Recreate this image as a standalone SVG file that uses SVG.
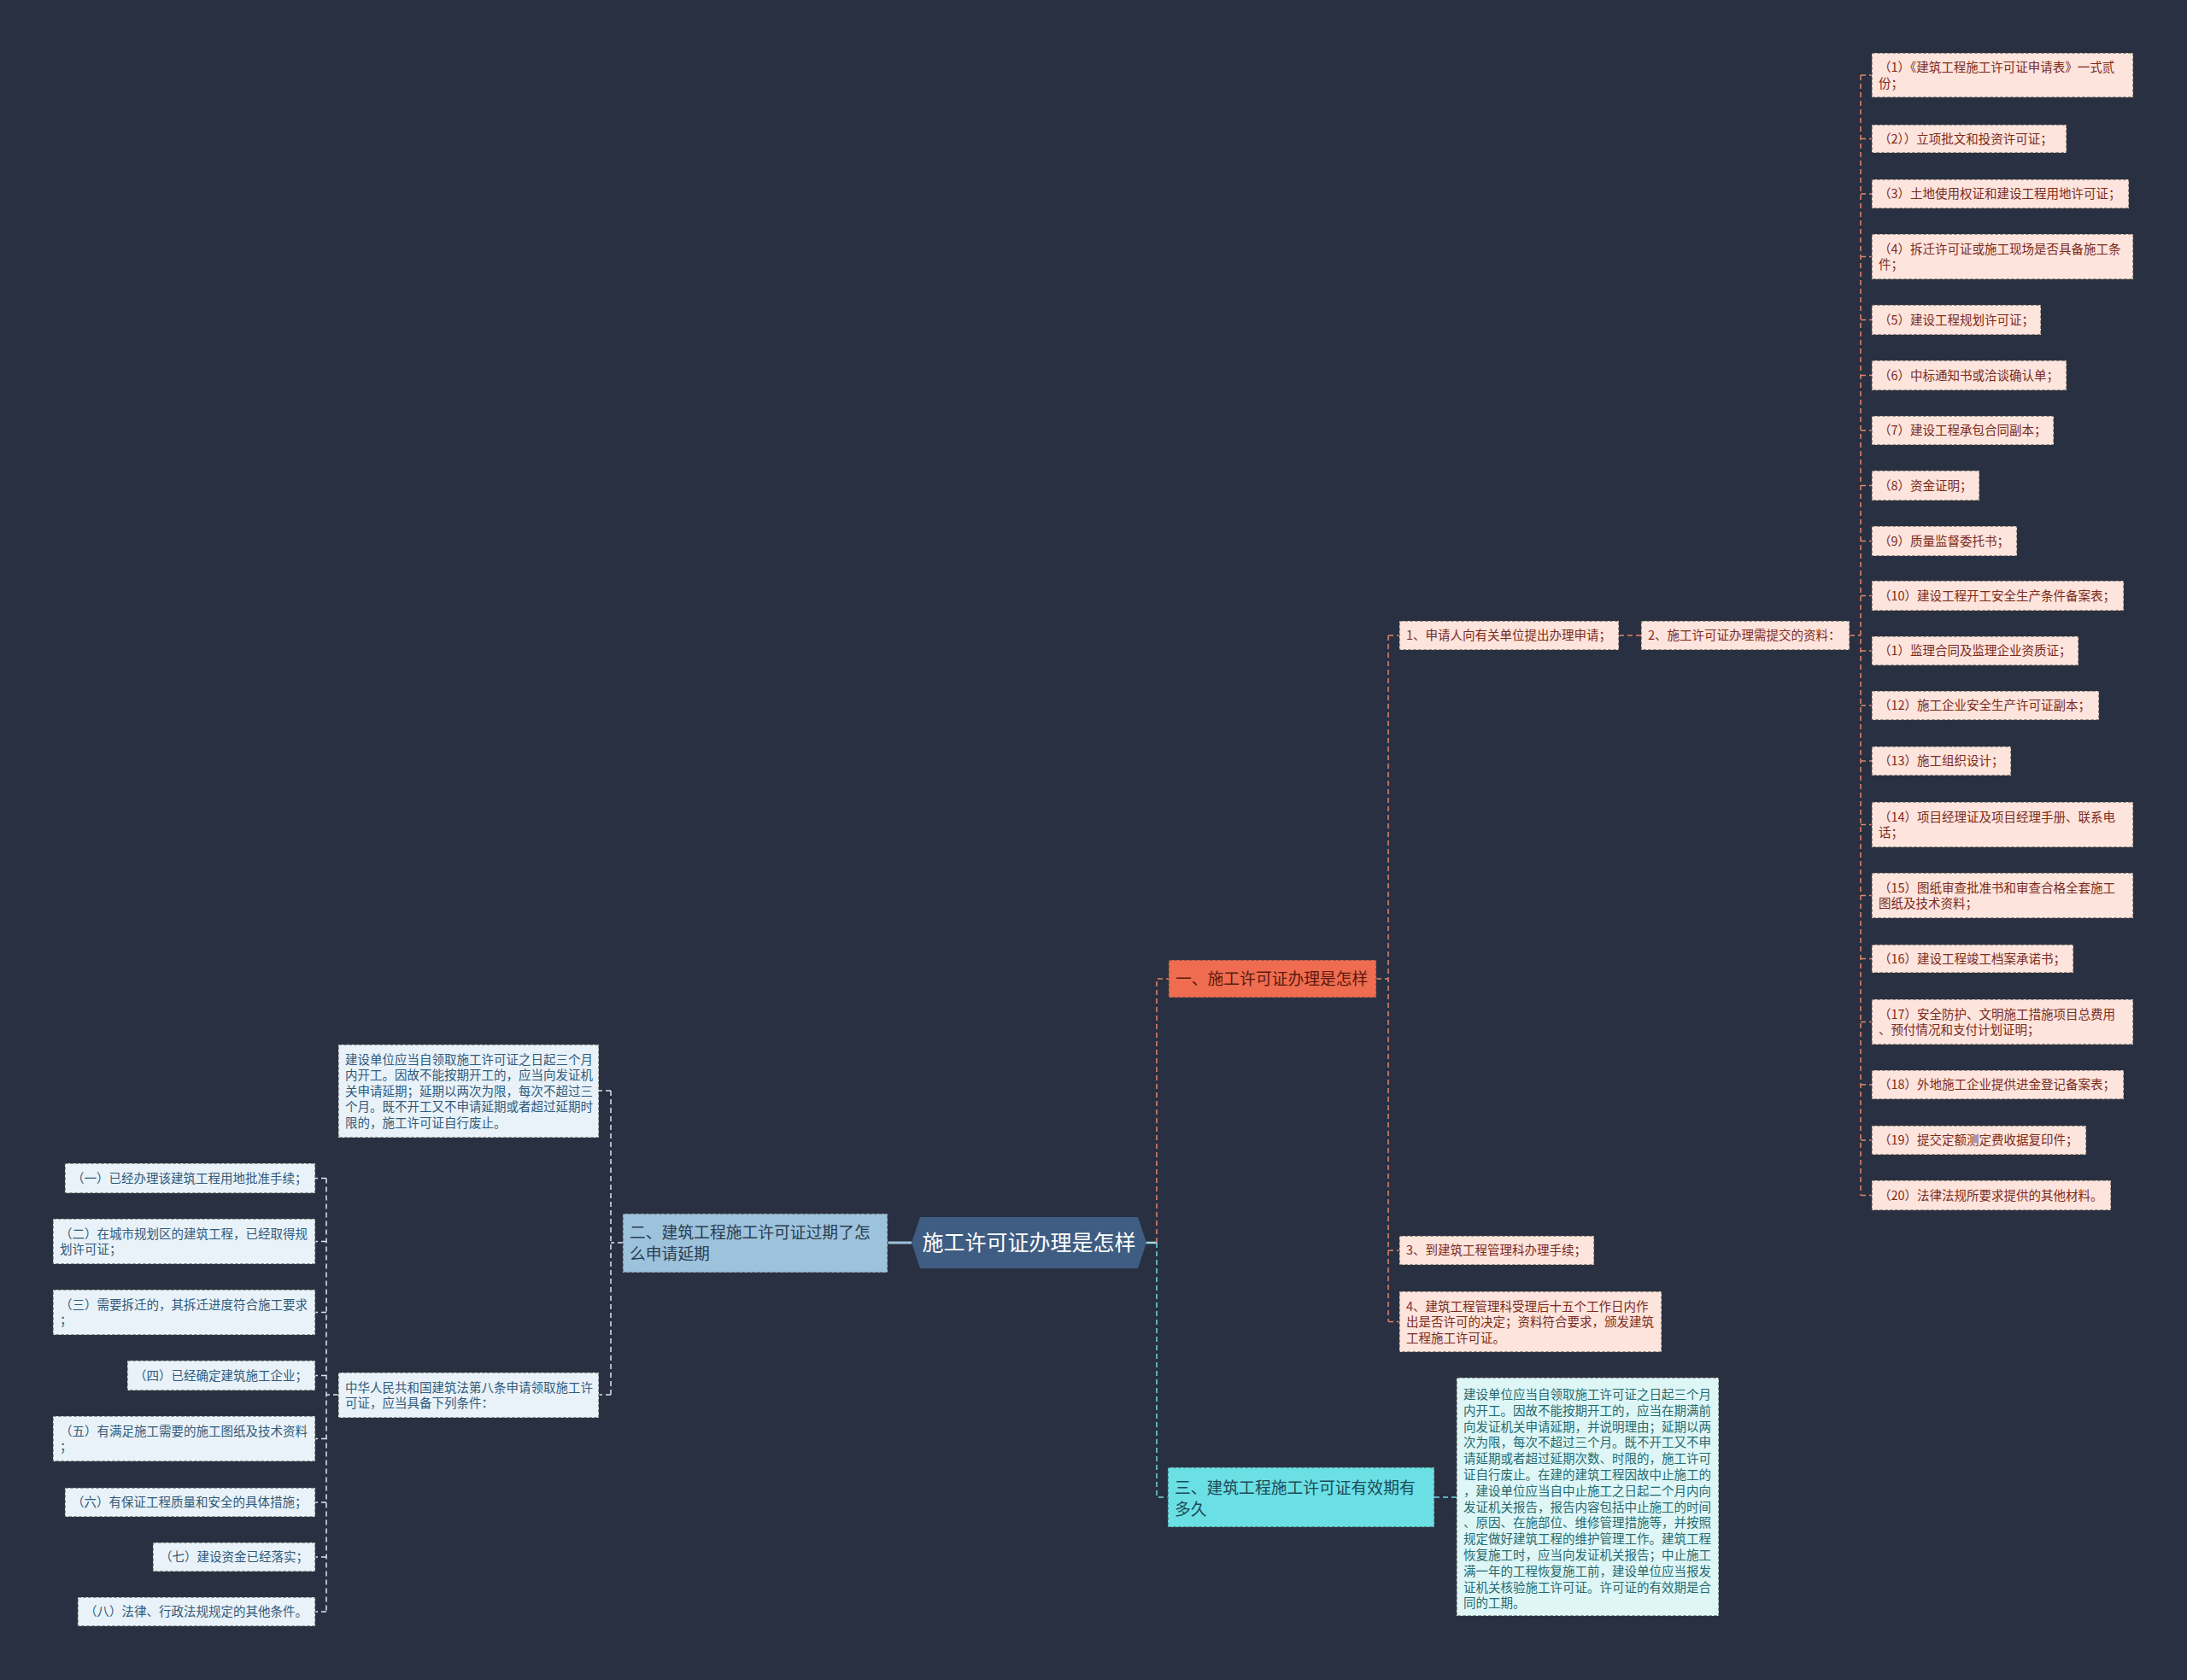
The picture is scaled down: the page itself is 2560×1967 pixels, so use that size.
<svg xmlns="http://www.w3.org/2000/svg" width="2560" height="1967" viewBox="0 0 2560 1967">
<style>
text{font-family:"Noto Sans CJK SC","Noto Sans",sans-serif;}
.bx{stroke:#3c3c3c;stroke-width:1;stroke-dasharray:4 2;}
.pk{fill:#fde4dc;}
.pt{font-size:14.5px;fill:#7b2b1c;}
.lb{fill:#e9f2f8;}
.lt{font-size:14.5px;fill:#2f5a7c;}
.cy{fill:#dff6f6;}
.ct{font-size:14.5px;fill:#1f6a70;}
.or{stroke:#e8826a;stroke-width:1.5;stroke-dasharray:6 4;fill:none;}
.cl{stroke:#6fd8e2;stroke-width:1.5;stroke-dasharray:6 4;fill:none;}
.wl{stroke:#dbe6ee;stroke-width:1.5;stroke-dasharray:6 4;fill:none;}
.t19{font-size:18.8px;}
</style>
<rect width="2560" height="1967" fill="#283041"/>
<g id="connectors">
<path d="M1339,1455 H1354" stroke="#9fd8e0" stroke-width="2.5" fill="none"/>
<path d="M1067,1455 H1039" stroke="#9dc3dc" stroke-width="3" fill="none"/>
<path class="or" d="M1354,1455 V1146 H1368"/>
<path class="cl" d="M1354,1455 V1753 H1367"/>
<path class="cl" d="M1679,1753 H1705"/>
<path class="or" d="M1611,1146 H1625"/>
<path class="or" d="M1625,744 V1547"/>
<path class="or" d="M1625,744 H1638 M1625,1464 H1638 M1625,1547.5 H1638"/>
<path class="or" d="M1895,744 H1921 M2165,744 H2178"/>
<path class="or" d="M2178,88 V1399.5"/>
<path class="or" d="M2178,88 H2191 M2178,162.5 H2191 M2178,227 H2191 M2178,300.5 H2191 M2178,374.5 H2191 M2178,439.5 H2191 M2178,504 H2191 M2178,568.5 H2191 M2178,633.5 H2191 M2178,697.5 H2191 M2178,762 H2191 M2178,826 H2191 M2178,891 H2191 M2178,965.5 H2191 M2178,1048.5 H2191 M2178,1122.5 H2191 M2178,1196.5 H2191 M2178,1270 H2191 M2178,1335 H2191 M2178,1399.5 H2191"/>
<path class="wl" d="M729,1455 H715 M715,1277 V1633 M715,1277 H701 M715,1633 H701 M396,1633 H382"/>
<path class="wl" d="M382,1379.5 V1887 M382,1379.5 H369 M382,1453.5 H369 M382,1536.5 H369 M382,1610.5 H369 M382,1684.5 H369 M382,1759 H369 M382,1823 H369 M382,1887 H369"/>
</g>
<g id="center">
<polygon points="1067,1455 1077,1425 1332,1425 1342,1455 1332,1485 1077,1485" fill="#3f5d82"/>
<text x="1204.5" y="1464" text-anchor="middle" font-size="25" fill="#ffffff">施工许可证办理是怎样</text>
</g>
<g id="n-yi">
<rect class="bx" x="1368" y="1124" width="243" height="44" fill="#ef6c50"/>
<text class="t19" x="1376" y="1152.5" fill="#5a1a0c">一、施工许可证办理是怎样</text>
</g>
<g id="n-er">
<rect class="bx" x="729" y="1421" width="310" height="69" fill="#9dc3dc"/>
<text class="t19" fill="#2a3c50"><tspan x="737" y="1449.5">二、建筑工程施工许可证过期了怎</tspan><tspan x="737" y="1474.5">么申请延期</tspan></text>
</g>
<g id="n-san">
<rect class="bx" x="1367" y="1718" width="312" height="70" fill="#6adfe4"/>
<text class="t19" fill="#1d4a56"><tspan x="1375" y="1748.5">三、建筑工程施工许可证有效期有</tspan><tspan x="1375" y="1773.5">多久</tspan></text>
</g>
<g id="n-step1">
<rect class="bx pk" x="1638" y="727" width="257" height="34"/>
<text class="pt" x="1646" y="749">1、申请人向有关单位提出办理申请；</text>
</g>
<g id="n-step2">
<rect class="bx pk" x="1921" y="727" width="244" height="34"/>
<text class="pt" x="1929" y="749">2、施工许可证办理需提交的资料：</text>
</g>
<g id="n-step3">
<rect class="bx pk" x="1638" y="1447" width="228" height="34"/>
<text class="pt" x="1646" y="1469">3、到建筑工程管理科办理手续；</text>
</g>
<g id="n-step4">
<rect class="bx pk" x="1638" y="1512" width="307" height="71"/>
<text class="pt"><tspan x="1646" y="1534.5">4、建筑工程管理科受理后十五个工作日内作</tspan><tspan x="1646" y="1553">出是否许可的决定；资料符合要求，颁发建筑</tspan><tspan x="1646" y="1571.5">工程施工许可证。</tspan></text>
</g>
<g id="m1"><rect class="bx pk" x="2191" y="62" width="306" height="52"/><text class="pt"><tspan x="2199" y="84">（1）《建筑工程施工许可证申请表》一式贰</tspan><tspan x="2199" y="102.5">份；</tspan></text></g>
<g id="m2"><rect class="bx pk" x="2191" y="146" width="228" height="33"/><text class="pt" x="2199" y="167.5">（2））立项批文和投资许可证；</text></g>
<g id="m3"><rect class="bx pk" x="2191" y="210" width="301" height="34"/><text class="pt" x="2199" y="232">（3）土地使用权证和建设工程用地许可证；</text></g>
<g id="m4"><rect class="bx pk" x="2191" y="274" width="306" height="53"/><text class="pt"><tspan x="2199" y="296.5">（4）拆迁许可证或施工现场是否具备施工条</tspan><tspan x="2199" y="315">件；</tspan></text></g>
<g id="m5"><rect class="bx pk" x="2191" y="357" width="198" height="35"/><text class="pt" x="2199" y="379.5">（5）建设工程规划许可证；</text></g>
<g id="m6"><rect class="bx pk" x="2191" y="422" width="228" height="35"/><text class="pt" x="2199" y="444.5">（6）中标通知书或洽谈确认单；</text></g>
<g id="m7"><rect class="bx pk" x="2191" y="487" width="213" height="34"/><text class="pt" x="2199" y="509">（7）建设工程承包合同副本；</text></g>
<g id="m8"><rect class="bx pk" x="2191" y="551" width="126" height="35"/><text class="pt" x="2199" y="573.5">（8）资金证明；</text></g>
<g id="m9"><rect class="bx pk" x="2191" y="616" width="170" height="35"/><text class="pt" x="2199" y="638.5">（9）质量监督委托书；</text></g>
<g id="m10"><rect class="bx pk" x="2191" y="680" width="295" height="35"/><text class="pt" x="2199" y="702.5">（10）建设工程开工安全生产条件备案表；</text></g>
<g id="m11"><rect class="bx pk" x="2191" y="745" width="242" height="34"/><text class="pt" x="2199" y="767">（1）监理合同及监理企业资质证；</text></g>
<g id="m12"><rect class="bx pk" x="2191" y="809" width="266" height="34"/><text class="pt" x="2199" y="831">（12）施工企业安全生产许可证副本；</text></g>
<g id="m13"><rect class="bx pk" x="2191" y="874" width="163" height="34"/><text class="pt" x="2199" y="896">（13）施工组织设计；</text></g>
<g id="m14"><rect class="bx pk" x="2191" y="939" width="306" height="53"/><text class="pt"><tspan x="2199" y="961.5">（14）项目经理证及项目经理手册、联系电</tspan><tspan x="2199" y="980">话；</tspan></text></g>
<g id="m15"><rect class="bx pk" x="2191" y="1022" width="306" height="53"/><text class="pt"><tspan x="2199" y="1044.5">（15）图纸审查批准书和审查合格全套施工</tspan><tspan x="2199" y="1063">图纸及技术资料；</tspan></text></g>
<g id="m16"><rect class="bx pk" x="2191" y="1106" width="236" height="33"/><text class="pt" x="2199" y="1127.5">（16）建设工程竣工档案承诺书；</text></g>
<g id="m17"><rect class="bx pk" x="2191" y="1170" width="306" height="53"/><text class="pt"><tspan x="2199" y="1192.5">（17）安全防护、文明施工措施项目总费用</tspan><tspan x="2199" y="1211">、预付情况和支付计划证明；</tspan></text></g>
<g id="m18"><rect class="bx pk" x="2191" y="1253" width="295" height="34"/><text class="pt" x="2199" y="1275">（18）外地施工企业提供进金登记备案表；</text></g>
<g id="m19"><rect class="bx pk" x="2191" y="1318" width="251" height="34"/><text class="pt" x="2199" y="1340">（19）提交定额测定费收据复印件；</text></g>
<g id="m20"><rect class="bx pk" x="2191" y="1382" width="280" height="35"/><text class="pt" x="2199" y="1404.5">（20）法律法规所要求提供的其他材料。</text></g>
<g id="n-validity">
<rect class="bx cy" x="1705" y="1613" width="307" height="279"/>
<text class="ct">
<tspan x="1713" y="1638">建设单位应当自领取施工许可证之日起三个月</tspan>
<tspan x="1713" y="1656.8">内开工。因故不能按期开工的，应当在期满前</tspan>
<tspan x="1713" y="1675.6">向发证机关申请延期，并说明理由；延期以两</tspan>
<tspan x="1713" y="1694.4">次为限，每次不超过三个月。既不开工又不申</tspan>
<tspan x="1713" y="1713.2">请延期或者超过延期次数、时限的，施工许可</tspan>
<tspan x="1713" y="1732">证自行废止。在建的建筑工程因故中止施工的</tspan>
<tspan x="1713" y="1750.8">，建设单位应当自中止施工之日起二个月内向</tspan>
<tspan x="1713" y="1769.6">发证机关报告，报告内容包括中止施工的时间</tspan>
<tspan x="1713" y="1788.4">、原因、在施部位、维修管理措施等，并按照</tspan>
<tspan x="1713" y="1807.2">规定做好建筑工程的维护管理工作。建筑工程</tspan>
<tspan x="1713" y="1826">恢复施工时，应当向发证机关报告；中止施工</tspan>
<tspan x="1713" y="1844.8">满一年的工程恢复施工前，建设单位应当报发</tspan>
<tspan x="1713" y="1863.6">证机关核验施工许可证。许可证的有效期是合</tspan>
<tspan x="1713" y="1882.4">同的工期。</tspan>
</text>
</g>
<g id="n-extend">
<rect class="bx lb" x="396" y="1223" width="305" height="109"/>
<text class="lt">
<tspan x="404" y="1245.5">建设单位应当自领取施工许可证之日起三个月</tspan>
<tspan x="404" y="1264">内开工。因故不能按期开工的，应当向发证机</tspan>
<tspan x="404" y="1282.5">关申请延期；延期以两次为限，每次不超过三</tspan>
<tspan x="404" y="1301">个月。既不开工又不申请延期或者超过延期时</tspan>
<tspan x="404" y="1319.5">限的，施工许可证自行废止。</tspan>
</text>
</g>
<g id="n-law">
<rect class="bx lb" x="396" y="1607" width="305" height="53"/>
<text class="lt"><tspan x="404" y="1629.5">中华人民共和国建筑法第八条申请领取施工许</tspan><tspan x="404" y="1648">可证，应当具备下列条件：</tspan></text>
</g>
<g id="c1"><rect class="bx lb" x="76" y="1362" width="293" height="35"/><text class="lt" x="84" y="1384.5">（一）已经办理该建筑工程用地批准手续；</text></g>
<g id="c2"><rect class="bx lb" x="62" y="1427" width="307" height="53"/><text class="lt"><tspan x="70" y="1449.5">（二）在城市规划区的建筑工程，已经取得规</tspan><tspan x="70" y="1468">划许可证；</tspan></text></g>
<g id="c3"><rect class="bx lb" x="62" y="1510" width="307" height="53"/><text class="lt"><tspan x="70" y="1532.5">（三）需要拆迁的，其拆迁进度符合施工要求</tspan><tspan x="70" y="1551">；</tspan></text></g>
<g id="c4"><rect class="bx lb" x="149" y="1593" width="220" height="35"/><text class="lt" x="157" y="1615.5">（四）已经确定建筑施工企业；</text></g>
<g id="c5"><rect class="bx lb" x="62" y="1658" width="307" height="53"/><text class="lt"><tspan x="70" y="1680.5">（五）有满足施工需要的施工图纸及技术资料</tspan><tspan x="70" y="1699">；</tspan></text></g>
<g id="c6"><rect class="bx lb" x="76" y="1742" width="293" height="34"/><text class="lt" x="84" y="1764">（六）有保证工程质量和安全的具体措施；</text></g>
<g id="c7"><rect class="bx lb" x="179" y="1806" width="190" height="34"/><text class="lt" x="187" y="1828">（七）建设资金已经落实；</text></g>
<g id="c8"><rect class="bx lb" x="91" y="1870" width="278" height="34"/><text class="lt" x="99" y="1892">（八）法律、行政法规规定的其他条件。</text></g>
</svg>
